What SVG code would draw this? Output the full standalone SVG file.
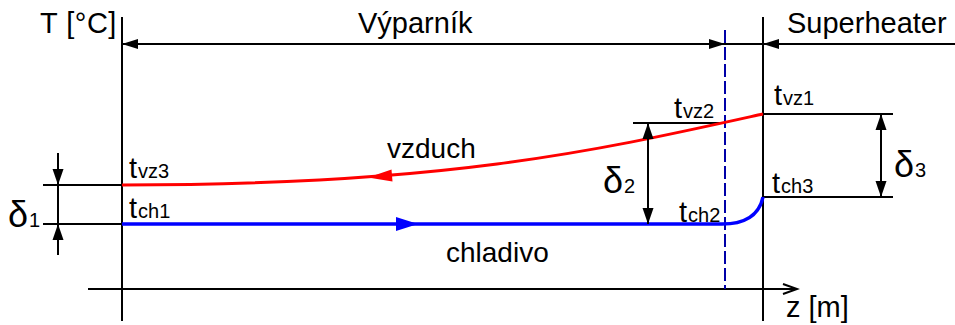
<svg xmlns="http://www.w3.org/2000/svg" width="955" height="325" viewBox="0 0 955 325">
<style>
text{font-family:"Liberation Sans",Arial,sans-serif;fill:#000}
.big{font-size:29px}
.lbl{font-size:28px}
.sub{font-size:20px}
.dl{font-size:36px}
.ln{stroke:#000;stroke-width:2;fill:none}
.ah{fill:#000;stroke:none}
</style>
<rect width="955" height="325" fill="#fff"/>
<g id="axes">
<line class="ln" x1="122" y1="17" x2="122" y2="321"/>
<line class="ln" x1="763" y1="17" x2="763" y2="321"/>
<line class="ln" x1="88" y1="289" x2="797" y2="289"/>
<polyline class="ln" points="783,284 797,289 783,294"/>
<line stroke="#0000a8" stroke-width="2" stroke-dasharray="13,4" x1="725" y1="30" x2="725" y2="289"/>
<text class="big" x="40" y="33" letter-spacing="0.5">T [°C]</text>
<text class="big" x="786" y="317">z [m]</text>
</g>
<g id="dim-top">
<line class="ln" x1="122" y1="44" x2="955" y2="44"/>
<polygon class="ah" points="122,44 138,39 138,49"/>
<polygon class="ah" points="725,44 709,39 709,49"/>
<polygon class="ah" points="763,44 779,39 779,49"/>
<text class="big" x="358" y="33">Výparník</text>
<text class="big" x="787" y="33">Superheater</text>
</g>
<g id="extensions">
<line class="ln" x1="43" y1="185" x2="122" y2="185"/>
<line class="ln" x1="43" y1="224" x2="122" y2="224"/>
<line class="ln" x1="633" y1="123" x2="725" y2="123"/>
<line class="ln" x1="763" y1="114" x2="893" y2="114"/>
<line class="ln" x1="763" y1="197" x2="893" y2="197"/>
</g>
<g id="connectors">
<path d="M122,185 C450,185 600,150 763,114" fill="none" stroke="#ff0000" stroke-width="3"/>
<polygon fill="#ff0000" points="368,177.5 392.5,181.5 391.5,169.5"/>
<path d="M122,224 L722,224 C745,224 759,216 763,197" fill="none" stroke="#0000ff" stroke-width="3.5"/>
<polygon fill="#0000ff" points="418,224 396,217 396,231"/>
</g>
<g id="delta1">
<line class="ln" x1="58" y1="153" x2="58" y2="255"/>
<polygon class="ah" points="58,185 52.5,169 63.5,169"/>
<polygon class="ah" points="58,224 52.5,240 63.5,240"/>
<text class="dl" x="8" y="227">δ<tspan class="sub" dx="1">1</tspan></text>
</g>
<g id="delta2">
<line class="ln" x1="648" y1="123" x2="648" y2="224"/>
<polygon class="ah" points="648,123 642.5,139 653.5,139"/>
<polygon class="ah" points="648,224 642.5,208 653.5,208"/>
<text class="dl" x="603" y="193">δ<tspan class="sub" dx="1">2</tspan></text>
</g>
<g id="delta3">
<line class="ln" x1="881" y1="114" x2="881" y2="197"/>
<polygon class="ah" points="881,114 875.5,130 886.5,130"/>
<polygon class="ah" points="881,197 875.5,181 886.5,181"/>
<text class="dl" x="894" y="177">δ<tspan class="sub" dx="1">3</tspan></text>
</g>
<g id="labels">
<text class="big" x="129" y="178">t<tspan class="sub" dx="1">vz3</tspan></text>
<text class="big" x="129" y="218">t<tspan class="sub" dx="1">ch1</tspan></text>
<text class="big" x="674" y="118">t<tspan class="sub" dx="1">vz2</tspan></text>
<text class="big" x="774" y="105">t<tspan class="sub" dx="1">vz1</tspan></text>
<text class="big" x="679" y="222">t<tspan class="sub" dx="1">ch2</tspan></text>
<text class="big" x="772" y="193">t<tspan class="sub" dx="1">ch3</tspan></text>
<text class="lbl" x="387" y="158">vzduch</text>
<text class="lbl" x="446" y="262">chladivo</text>
</g>
</svg>
